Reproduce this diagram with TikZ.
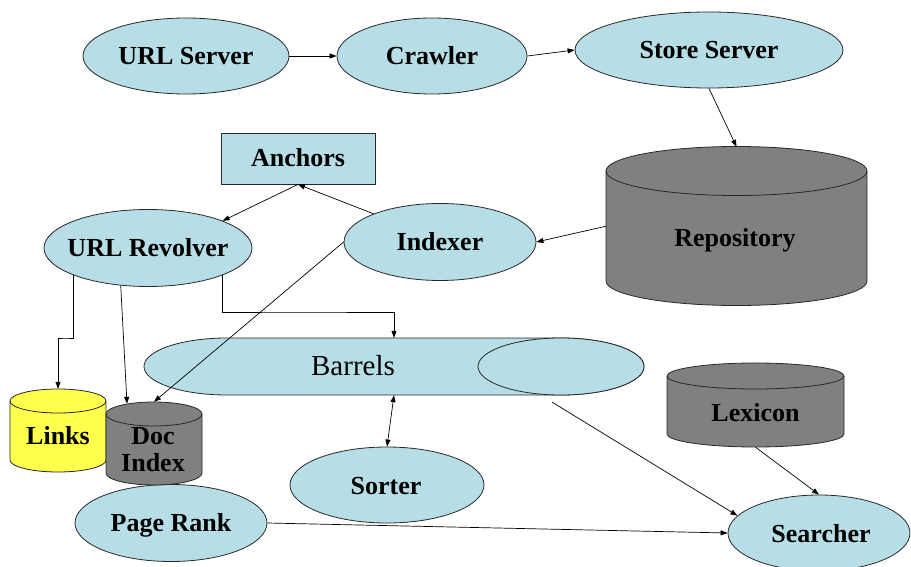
\documentclass[tikz,border=0pt]{standalone}
\usepackage{fontspec}
\setmainfont{Liberation Serif}
\usetikzlibrary{shapes.geometric,arrows.meta,calc}
\definecolor{lblue}{RGB}{183,222,230}
\definecolor{dgray}{RGB}{128,128,128}
\definecolor{lyellow}{RGB}{255,255,77}
\definecolor{edgec}{RGB}{40,40,40}
% vertical cylinder: cx, ytop-centre, ybottom-centre, rx, ry, fill
\newcommand{\vcyl}[6]{%
  \filldraw[fill=#6, draw=edgec, line width=0.8pt] (#1-#4,#2) -- (#1-#4,#3)
    arc[start angle=180,end angle=0,x radius=#4,y radius=#5] -- (#1+#4,#2)
    arc[start angle=0,end angle=-180,x radius=#4,y radius=#5] -- cycle;
  \draw[edgec, line width=0.8pt] (#1+#4,#2) arc[start angle=0,end angle=180,x radius=#4,y radius=#5];
}
\tikzset{
  blob/.style={ellipse, draw=edgec, fill=lblue, line width=0.8pt, inner sep=0pt},
  ghost/.style={rectangle, inner sep=0pt, draw=none},
  lbl/.style={font=\fontsize{26}{28}\selectfont\bfseries, text height=17pt, text depth=0pt, inner sep=0pt},
  arr/.style={-{Triangle[length=7pt,width=5pt]}, line width=0.7pt, black},
  darr/.style={{Triangle[length=7pt,width=5pt]}-{Triangle[length=7pt,width=5pt]}, line width=0.7pt, black}
}
\begin{document}
\begin{tikzpicture}[x=1pt,y=-1pt]
\useasboundingbox (0,0) rectangle (911,567);
\clip (0,0) rectangle (911,567);

% ellipses
\node[blob, minimum width=206pt, minimum height=76pt] (us) at (186,56) {};
\node[blob, minimum width=190pt, minimum height=76pt] (cr) at (432,56) {};
\node[blob, minimum width=268pt, minimum height=76pt] (ss) at (709,50) {};
\node[blob, minimum width=192pt, minimum height=77pt] (idx) at (440,242) {};
\node[blob, minimum width=208pt, minimum height=77pt] (rev) at (148,248) {};
\node[blob, minimum width=194pt, minimum height=76pt] (so) at (387,485) {};
\node[blob, minimum width=192pt, minimum height=77pt] (pr) at (171,523) {};
\node[blob, minimum width=182pt, minimum height=76pt] (se) at (819,533) {};
\node[rectangle, draw=edgec, fill=lblue, line width=0.8pt, inner sep=0pt,
      minimum width=154pt, minimum height=51pt] (anc) at (298,158.5) {};

% cylinders
\vcyl{736.5}{171}{281}{130.5}{24.5}{dgray}
\node[ghost, minimum width=261pt, minimum height=158.5pt] (repo) at (736.5,226.25) {};
\vcyl{58}{401}{460}{48}{12}{lyellow}
\node[ghost, minimum width=96pt, minimum height=83pt] (links) at (58,430.5) {};
\vcyl{154}{414}{473}{48}{12}{dgray}
\node[ghost, minimum width=96pt, minimum height=83pt] (doc) at (154,443.5) {};
\vcyl{755.5}{376}{434}{88.5}{13}{dgray}
\node[ghost, minimum width=177pt, minimum height=84pt] (lex) at (755.5,405) {};

% barrels (horizontal cylinder)
\filldraw[fill=lblue, draw=edgec, line width=0.8pt] (227,338) -- (561,338)
  arc[start angle=-90,end angle=90,x radius=83,y radius=28.5] -- (227,395)
  arc[start angle=90,end angle=270,x radius=83,y radius=28.5] -- cycle;
\filldraw[fill=lblue, draw=edgec, line width=0.8pt] (561,366.5) ellipse[x radius=83, y radius=28.5];
\node[ghost, minimum width=500pt, minimum height=57pt] (bar) at (394,366.5) {};

% labels
\node[lbl] at (us) {URL Server};
\node[lbl] at (cr) {Crawler};
\node[lbl] at (ss) {Store Server};
\node[lbl] at (idx) {Indexer};
\node[lbl] at (rev) {URL Revolver};
\node[lbl] at (386,486) {Sorter};
\node[lbl] at (pr) {Page Rank};
\node[lbl] at (821,534) {Searcher};
\node[lbl] at (anc) {Anchors};
\node[lbl] at (735,238) {Repository};
\node[lbl] at (58,436) {Links};
\node[lbl] at (755.5,413) {Lexicon};
\node[font=\fontsize{26}{27}\selectfont\bfseries, align=center, inner sep=0pt] at (153,449.5) {Doc\\Index};
\node[font=\fontsize{29}{31}\selectfont, text height=19pt, text depth=0pt, inner sep=0pt] at (353,366) {Barrels};

% connectors
\draw[arr] (us.east) -- (cr.west);
\draw[arr] (cr.east) -- (ss.west);
\draw[arr] (ss.south) -- (repo.north);
\draw[arr] (repo.west) -- (idx.east);
\draw[arr] (idx.157) -- (anc.south);
\draw[arr] (anc.south) -- (rev.20);
\draw[arr] (idx.west) -- (doc.north);
\draw[arr] (rev.200) |- (66,338) -| (links.north);
\draw[arr] (rev.234) -- ($(doc.north)+(-27,2)$);
\draw[arr] (rev.340) |- (300,312) -| (bar.north);
\draw[darr] (bar.south) -- (so.north);
\draw[arr] ($(bar.south east)+(-92,7)$) -- (se.168);
\draw[arr] (lex.south) -- (se.north);
\draw[arr] (pr.east) -- (se.west);
\end{tikzpicture}
\end{document}
